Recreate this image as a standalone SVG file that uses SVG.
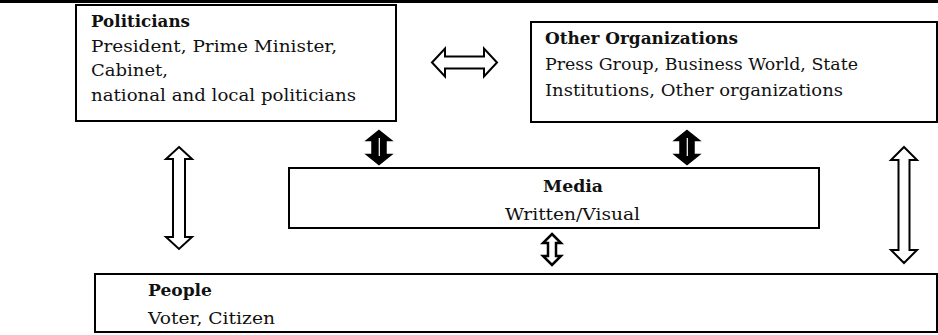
<svg xmlns="http://www.w3.org/2000/svg" width="938" height="335" viewBox="0 0 938 335">
<style>
.box{fill:#fff;stroke:#000;stroke-width:2}
.t{font-family:"DejaVu Serif","Liberation Serif",serif;font-size:16px;fill:#111}
.b{font-family:"DejaVu Serif","Liberation Serif",serif;font-size:16px;font-weight:bold;fill:#111}
.ho{fill:#fff;stroke:#000;stroke-width:2;stroke-linejoin:miter}
.so{fill:#000;stroke:#000;stroke-width:1.5}
.wl{stroke:#fff;stroke-width:1.2}
</style>
<rect x="0" y="0" width="938" height="3" fill="#000"/>
<g id="politicians">
<rect class="box" x="76" y="5" width="320" height="116"/>
<text class="b" x="91" y="27" textLength="99" lengthAdjust="spacingAndGlyphs">Politicians</text>
<text class="t" x="91" y="51.5" textLength="246" lengthAdjust="spacingAndGlyphs">President, Prime Minister,</text>
<text class="t" x="91" y="76" textLength="77" lengthAdjust="spacingAndGlyphs">Cabinet,</text>
<text class="t" x="91" y="100.5" textLength="265" lengthAdjust="spacingAndGlyphs">national and local politicians</text>
</g>
<g id="other-organizations">
<rect class="box" x="531" y="22" width="406" height="100"/>
<text class="b" x="545" y="44" textLength="193" lengthAdjust="spacingAndGlyphs">Other Organizations</text>
<text class="t" x="545" y="70" textLength="313" lengthAdjust="spacingAndGlyphs">Press Group, Business World, State</text>
<text class="t" x="545" y="96" textLength="298" lengthAdjust="spacingAndGlyphs">Institutions, Other organizations</text>
</g>
<g id="media">
<rect class="box" x="289" y="168" width="530" height="60"/>
<text class="b" x="543" y="192" textLength="60" lengthAdjust="spacingAndGlyphs">Media</text>
<text class="t" x="505" y="220" textLength="135" lengthAdjust="spacingAndGlyphs">Written/Visual</text>
</g>
<g id="people">
<rect class="box" x="95" y="274" width="842" height="58"/>
<text class="b" x="148" y="296" textLength="64" lengthAdjust="spacingAndGlyphs">People</text>
<text class="t" x="148" y="324" textLength="127" lengthAdjust="spacingAndGlyphs">Voter, Citizen</text>
</g>
<g id="connectors">
<path class="ho" d="M432,62.5 L445,48.5 L445,56.5 L484,56.5 L484,48.5 L497,62.5 L484,76.5 L484,68.5 L445,68.5 L445,76.5 Z"/>
<path class="ho" d="M179,147 L192,159 L185,159 L185,237 L192,237 L179,249 L166,237 L173,237 L173,159 L166,159 Z"/>
<path class="ho" d="M904,147 L917,160 L909.5,160 L909.5,250 L917,250 L904,263 L891,250 L898.5,250 L898.5,160 L891,160 Z"/>
<path class="ho" d="M552,234 L561,243 L556,243 L556,256 L561,256 L552,265 L543,256 L548,256 L548,243 L543,243 Z" style="stroke-width:2.5"/>
<path class="so" d="M379,130.5 L391.5,140.5 L386,140.5 L386,154.5 L391.5,154.5 L379,164.5 L366.5,154.5 L372,154.5 L372,140.5 L366.5,140.5 Z"/>
<line class="wl" x1="379.3" y1="138" x2="379.3" y2="156"/>
<path class="so" d="M687,130.5 L699.5,140.5 L694,140.5 L694,154.5 L699.5,154.5 L687,164.5 L674.5,154.5 L680,154.5 L680,140.5 L674.5,140.5 Z"/>
<line class="wl" x1="687.3" y1="138" x2="687.3" y2="156"/>
</g>
</svg>
